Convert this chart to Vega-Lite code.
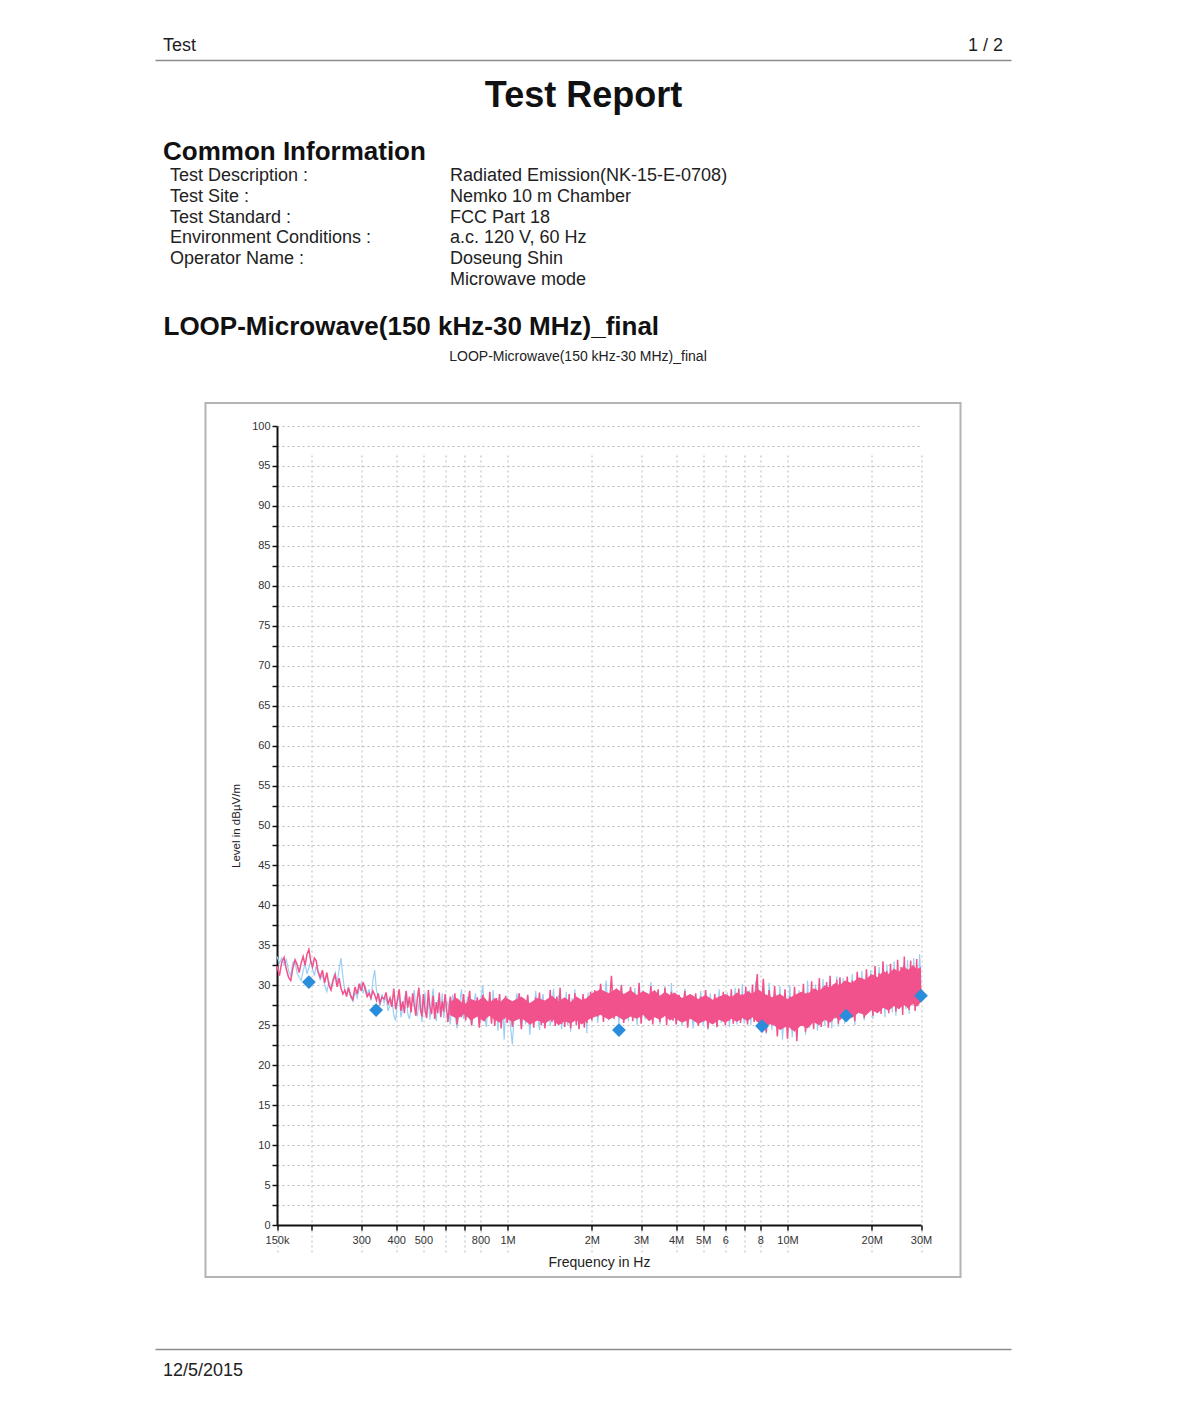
{
  "$schema": "https://vega.github.io/schema/vega-lite/v6.json",
  "background": "white",
  "padding": {"left": 155, "top": 32, "right": 10, "bottom": 10},
  "config": {
    "view": {"stroke": null},
    "font": "Liberation Sans",
    "axis": {"labelFont": "Liberation Sans", "titleFont": "Liberation Sans"},
    "title": {"font": "Liberation Sans"}
  },
  "spacing": 20,
  "bounds": "flush",
  "center": true,
  "datasets": {
    "trace": [
      {"f":0.150,"s1":32.4,"s2":33.6},{"f":0.153,"s1":31.2,"s2":32.8},{"f":0.156,"s1":32.9,"s2":33.4},{"f":0.159,"s1":33.5,"s2":32.6},
      {"f":0.162,"s1":32.0,"s2":33.2},{"f":0.165,"s1":31.0,"s2":31.8},{"f":0.168,"s1":30.6,"s2":31.2},{"f":0.171,"s1":32.2,"s2":32.9},
      {"f":0.174,"s1":33.2,"s2":33.0},{"f":0.177,"s1":32.6,"s2":31.5},{"f":0.180,"s1":31.6,"s2":31.0},{"f":0.183,"s1":32.8,"s2":30.6},
      {"f":0.186,"s1":33.6,"s2":31.8},{"f":0.189,"s1":32.5,"s2":32.7},{"f":0.192,"s1":33.9,"s2":31.4},{"f":0.195,"s1":34.5,"s2":32.2},
      {"f":0.198,"s1":33.0,"s2":33.0},{"f":0.201,"s1":32.3,"s2":32.0},{"f":0.204,"s1":33.4,"s2":31.2},{"f":0.207,"s1":33.1,"s2":32.4},
      {"f":0.210,"s1":31.8,"s2":31.6},{"f":0.214,"s1":31.0,"s2":30.7},{"f":0.218,"s1":31.9,"s2":31.3},{"f":0.222,"s1":30.3,"s2":30.1},
      {"f":0.226,"s1":31.6,"s2":29.2},{"f":0.230,"s1":30.0,"s2":30.4},{"f":0.234,"s1":29.4,"s2":29.7},{"f":0.238,"s1":30.6,"s2":30.9},
      {"f":0.242,"s1":31.3,"s2":31.6},{"f":0.246,"s1":29.8,"s2":30.2},{"f":0.250,"s1":30.9,"s2":32.0},{"f":0.254,"s1":29.6,"s2":33.4},
      {"f":0.258,"s1":28.9,"s2":31.0},{"f":0.262,"s1":29.4,"s2":29.3},{"f":0.266,"s1":28.6,"s2":28.9},{"f":0.270,"s1":29.7,"s2":29.8},
      {"f":0.275,"s1":28.7,"s2":28.5},{"f":0.280,"s1":28.2,"s2":28.0},{"f":0.285,"s1":29.8,"s2":29.2},{"f":0.290,"s1":28.9,"s2":28.4},
      {"f":0.295,"s1":30.2,"s2":29.6},{"f":0.300,"s1":29.3,"s2":30.3},{"f":0.305,"s1":30.4,"s2":29.0},{"f":0.310,"s1":29.5,"s2":30.0},
      {"f":0.315,"s1":28.6,"s2":28.8},{"f":0.320,"s1":29.0,"s2":29.5},{"f":0.325,"s1":28.4,"s2":28.1},{"f":0.330,"s1":29.3,"s2":30.6},
      {"f":0.335,"s1":28.8,"s2":31.9},{"f":0.340,"s1":28.1,"s2":29.4},{"f":0.345,"s1":29.0,"s2":28.5},{"f":0.350,"s1":27.8,"s2":27.4},
      {"f":0.356,"s1":28.5,"s2":28.9},{"f":0.362,"s1":28.3,"s2":27.8},{"f":0.368,"s1":29.1,"s2":28.6},{"f":0.374,"s1":27.6,"s2":26.8},
      {"f":0.380,"s1":28.4,"s2":27.5},{"f":0.386,"s1":27.3,"s2":28.3},{"f":0.392,"s1":29.6,"s2":26.3},{"f":0.398,"s1":27.0,"s2":25.6},
      {"f":0.404,"s1":28.2,"s2":27.9},{"f":0.410,"s1":29.5,"s2":28.7},{"f":0.416,"s1":26.8,"s2":26.0},{"f":0.422,"s1":28.0,"s2":27.1},
      {"f":0.428,"s1":26.5,"s2":28.4},{"f":0.434,"s1":29.3,"s2":29.2},{"f":0.440,"s1":27.2,"s2":26.4},{"f":0.446,"s1":28.6,"s2":25.8},
      {"f":0.452,"s1":26.6,"s2":27.3},{"f":0.458,"s1":29.0,"s2":28.1},{"f":0.464,"s1":27.5,"s2":29.4},{"f":0.470,"s1":26.2,"s2":27.0},
      {"f":0.476,"s1":28.4,"s2":26.1},{"f":0.482,"s1":29.7,"s2":27.7},{"f":0.488,"s1":27.0,"s2":28.8},{"f":0.494,"s1":26.1,"s2":25.4},
      {"f":0.500,"s1":28.9,"s2":27.2},{"f":0.507,"s1":26.9,"s2":29.1},{"f":0.514,"s1":25.9,"s2":26.5},{"f":0.521,"s1":29.4,"s2":28.0},
      {"f":0.528,"s1":27.3,"s2":25.7},{"f":0.535,"s1":26.4,"s2":27.8},{"f":0.542,"s1":28.7,"s2":29.6},{"f":0.549,"s1":25.8,"s2":26.9},
      {"f":0.556,"s1":27.9,"s2":25.5},{"f":0.563,"s1":26.5,"s2":28.2},{"f":0.570,"s1":29.1,"s2":27.4},{"f":0.577,"s1":26.0,"s2":26.2},
      {"f":0.584,"s1":28.0,"s2":29.0},{"f":0.591,"s1":26.7,"s2":25.9},{"f":0.598,"s1":28.9,"s2":27.3},
      {"f":0.612,"s1":25.4,"s2":27.9},{"f":0.624,"s1":28.6,"s2":25.1},{"f":0.636,"s1":26.2,"s2":28.8},{"f":0.648,"s1":29.0,"s2":26.4},
      {"f":0.660,"s1":25.1,"s2":24.6},{"f":0.672,"s1":27.8,"s2":27.3},{"f":0.684,"s1":26.0,"s2":29.5},{"f":0.696,"s1":28.9,"s2":25.8},
      {"f":0.708,"s1":25.6,"s2":27.0},{"f":0.720,"s1":27.4,"s2":28.6},{"f":0.732,"s1":29.3,"s2":26.1},{"f":0.744,"s1":25.0,"s2":24.9},
      {"f":0.756,"s1":27.9,"s2":27.6},{"f":0.768,"s1":26.3,"s2":29.0},{"f":0.780,"s1":28.5,"s2":26.7},{"f":0.792,"s1":24.7,"s2":25.3},
      {"f":0.804,"s1":27.1,"s2":28.4},{"f":0.816,"s1":28.8,"s2":30.0},{"f":0.828,"s1":25.5,"s2":26.2},{"f":0.840,"s1":27.6,"s2":24.8},
      {"f":0.852,"s1":26.1,"s2":27.9},{"f":0.864,"s1":29.2,"s2":28.3},{"f":0.876,"s1":25.2,"s2":25.6},{"f":0.888,"s1":27.7,"s2":29.4},
      {"f":0.900,"s1":24.9,"s2":26.0},{"f":0.912,"s1":28.4,"s2":27.2},{"f":0.924,"s1":26.6,"s2":24.3},{"f":0.936,"s1":28.9,"s2":28.9},
      {"f":0.948,"s1":24.6,"s2":25.7},{"f":0.960,"s1":27.3,"s2":27.8},{"f":0.972,"s1":25.8,"s2":23.2},{"f":0.984,"s1":28.7,"s2":26.9},
      {"f":0.996,"s1":25.3,"s2":28.5},
      {"f":1.02,"s1":28.1,"s2":25.4},{"f":1.04,"s1":24.8,"s2":22.6},{"f":1.06,"s1":27.5,"s2":27.3},{"f":1.08,"s1":25.9,"s2":29.0},
      {"f":1.10,"s1":29.0,"s2":26.2},{"f":1.12,"s1":24.5,"s2":24.7},{"f":1.14,"s1":28.3,"s2":27.9},{"f":1.16,"s1":26.0,"s2":25.1},
      {"f":1.18,"s1":28.8,"s2":28.7},{"f":1.20,"s1":25.1,"s2":23.8},{"f":1.22,"s1":27.6,"s2":27.0},{"f":1.24,"s1":24.7,"s2":25.8},
      {"f":1.26,"s1":28.5,"s2":29.3},{"f":1.28,"s1":26.3,"s2":26.5},{"f":1.30,"s1":29.1,"s2":24.4},{"f":1.32,"s1":25.0,"s2":27.7},
      {"f":1.34,"s1":27.9,"s2":28.9},{"f":1.36,"s1":24.6,"s2":25.2},{"f":1.38,"s1":28.2,"s2":26.8},{"f":1.40,"s1":26.1,"s2":28.0},
      {"f":1.42,"s1":29.4,"s2":24.9},{"f":1.44,"s1":25.4,"s2":27.4},{"f":1.46,"s1":27.2,"s2":29.6},{"f":1.48,"s1":24.9,"s2":25.5},
      {"f":1.50,"s1":28.6,"s2":26.3},{"f":1.52,"s1":25.7,"s2":28.8},{"f":1.54,"s1":29.7,"s2":27.1},{"f":1.56,"s1":25.2,"s2":24.5},
      {"f":1.58,"s1":27.8,"s2":27.6},{"f":1.60,"s1":24.8,"s2":26.0},{"f":1.62,"s1":28.3,"s2":29.2},{"f":1.64,"s1":26.0,"s2":25.0},
      {"f":1.66,"s1":28.9,"s2":27.9},{"f":1.68,"s1":24.6,"s2":24.2},{"f":1.70,"s1":27.4,"s2":28.4},{"f":1.72,"s1":25.6,"s2":26.6},
      {"f":1.74,"s1":29.0,"s2":29.5},{"f":1.76,"s1":25.0,"s2":25.3},{"f":1.78,"s1":28.1,"s2":27.2},{"f":1.80,"s1":24.5,"s2":24.6},
      {"f":1.82,"s1":27.7,"s2":28.1},{"f":1.84,"s1":25.8,"s2":26.4},{"f":1.86,"s1":28.9,"s2":28.7},{"f":1.88,"s1":24.7,"s2":25.1},
      {"f":1.90,"s1":27.5,"s2":27.8},{"f":1.92,"s1":25.3,"s2":24.0},{"f":1.94,"s1":28.6,"s2":29.1},{"f":1.96,"s1":26.2,"s2":26.2},
      {"f":1.98,"s1":29.2,"s2":28.3},
      {"f":2.00,"s1":25.6,"s2":26.4},{"f":2.05,"s1":29.4,"s2":28.9},{"f":2.10,"s1":26.1,"s2":25.3},{"f":2.15,"s1":30.2,"s2":29.8},
      {"f":2.20,"s1":25.4,"s2":26.8},{"f":2.25,"s1":29.0,"s2":30.6},{"f":2.30,"s1":26.5,"s2":25.6},{"f":2.35,"s1":31.2,"s2":29.3},
      {"f":2.40,"s1":25.8,"s2":26.0},{"f":2.45,"s1":29.6,"s2":28.4},{"f":2.50,"s1":26.2,"s2":25.2},{"f":2.55,"s1":30.0,"s2":30.1},
      {"f":2.60,"s1":25.3,"s2":26.3},{"f":2.65,"s1":28.9,"s2":29.0},{"f":2.70,"s1":26.8,"s2":25.5},{"f":2.75,"s1":29.8,"s2":28.2},
      {"f":2.80,"s1":25.5,"s2":26.6},{"f":2.85,"s1":28.6,"s2":29.7},{"f":2.90,"s1":26.0,"s2":25.0},{"f":2.95,"s1":30.3,"s2":28.8},
      {"f":3.00,"s1":25.2,"s2":26.1},{"f":3.05,"s1":29.1,"s2":29.4},{"f":3.10,"s1":26.4,"s2":25.7},{"f":3.15,"s1":28.8,"s2":28.0},
      {"f":3.20,"s1":25.7,"s2":26.9},{"f":3.25,"s1":29.9,"s2":30.4},{"f":3.30,"s1":25.1,"s2":25.4},{"f":3.35,"s1":28.7,"s2":28.6},
      {"f":3.40,"s1":26.6,"s2":26.2},{"f":3.45,"s1":29.5,"s2":29.1},{"f":3.50,"s1":25.4,"s2":25.1},{"f":3.55,"s1":28.4,"s2":28.7},
      {"f":3.60,"s1":26.0,"s2":26.5},{"f":3.65,"s1":29.7,"s2":29.9},{"f":3.70,"s1":25.0,"s2":25.3},{"f":3.75,"s1":28.9,"s2":28.1},
      {"f":3.80,"s1":26.3,"s2":26.0},{"f":3.85,"s1":29.2,"s2":30.3},{"f":3.90,"s1":25.6,"s2":25.5},{"f":3.95,"s1":28.5,"s2":28.8},
      {"f":4.0,"s1":25.1,"s2":25.8},{"f":4.1,"s1":28.8,"s2":28.3},{"f":4.2,"s1":25.8,"s2":24.9},{"f":4.3,"s1":29.3,"s2":29.6},
      {"f":4.4,"s1":24.7,"s2":25.6},{"f":4.5,"s1":28.2,"s2":28.9},{"f":4.6,"s1":25.9,"s2":24.6},{"f":4.7,"s1":29.0,"s2":28.0},
      {"f":4.8,"s1":24.9,"s2":26.1},{"f":4.9,"s1":28.6,"s2":29.3},{"f":5.0,"s1":25.5,"s2":25.0},{"f":5.1,"s1":29.4,"s2":28.5},
      {"f":5.2,"s1":24.6,"s2":24.4},{"f":5.3,"s1":28.1,"s2":29.0},{"f":5.4,"s1":25.7,"s2":25.9},{"f":5.5,"s1":28.9,"s2":28.2},
      {"f":5.6,"s1":24.8,"s2":24.7},{"f":5.7,"s1":28.4,"s2":29.5},{"f":5.8,"s1":26.0,"s2":25.3},{"f":5.9,"s1":29.2,"s2":28.6},
      {"f":6.0,"s1":25.0,"s2":25.6},{"f":6.1,"s1":28.7,"s2":29.1},{"f":6.2,"s1":25.6,"s2":24.8},{"f":6.3,"s1":29.5,"s2":28.4},
      {"f":6.4,"s1":25.2,"s2":26.0},{"f":6.5,"s1":28.5,"s2":29.7},{"f":6.6,"s1":26.1,"s2":25.1},{"f":6.7,"s1":29.6,"s2":28.8},
      {"f":6.8,"s1":25.3,"s2":25.7},{"f":6.9,"s1":28.9,"s2":30.2},{"f":7.0,"s1":25.9,"s2":25.2},{"f":7.1,"s1":29.8,"s2":28.9},
      {"f":7.2,"s1":25.1,"s2":26.3},{"f":7.3,"s1":29.2,"s2":29.4},{"f":7.4,"s1":26.2,"s2":25.0},{"f":7.5,"s1":30.1,"s2":29.0},
      {"f":7.6,"s1":25.4,"s2":26.1},{"f":7.7,"s1":29.0,"s2":30.5},{"f":7.8,"s1":31.4,"s2":25.4},{"f":7.9,"s1":25.7,"s2":29.3},
      {"f":8.0,"s1":24.6,"s2":25.1},{"f":8.2,"s1":30.8,"s2":29.6},{"f":8.4,"s1":24.1,"s2":23.9},{"f":8.6,"s1":29.4,"s2":30.3},
      {"f":8.8,"s1":25.0,"s2":24.4},{"f":9.0,"s1":29.9,"s2":28.7},{"f":9.2,"s1":23.6,"s2":25.6},{"f":9.4,"s1":28.8,"s2":29.9},
      {"f":9.6,"s1":24.8,"s2":23.2},{"f":9.8,"s1":29.5,"s2":28.4},{"f":10.0,"s1":23.3,"s2":24.9},{"f":10.2,"s1":28.6,"s2":30.0},
      {"f":10.4,"s1":24.4,"s2":23.5},{"f":10.6,"s1":29.8,"s2":28.8},{"f":10.8,"s1":23.0,"s2":24.2},{"f":11.0,"s1":28.9,"s2":29.4},
      {"f":11.2,"s1":24.9,"s2":25.5},{"f":11.4,"s1":30.2,"s2":29.0},{"f":11.6,"s1":24.2,"s2":23.8},{"f":11.8,"s1":29.1,"s2":30.6},
      {"f":12.0,"s1":25.3,"s2":24.7},{"f":12.2,"s1":30.5,"s2":29.3},{"f":12.4,"s1":24.5,"s2":25.9},{"f":12.6,"s1":29.6,"s2":30.1},
      {"f":12.8,"s1":25.6,"s2":24.3},{"f":13.0,"s1":30.9,"s2":29.5},{"f":13.2,"s1":24.8,"s2":25.4},{"f":13.4,"s1":29.7,"s2":30.8},
      {"f":13.6,"s1":25.9,"s2":24.9},{"f":13.8,"s1":30.4,"s2":29.8},{"f":14.0,"s1":24.7,"s2":26.0},{"f":14.2,"s1":31.2,"s2":30.5},
      {"f":14.4,"s1":25.5,"s2":24.6},{"f":14.6,"s1":30.1,"s2":29.6},{"f":14.8,"s1":26.0,"s2":25.8},{"f":15.0,"s1":30.7,"s2":31.1},
      {"f":15.2,"s1":25.2,"s2":24.8},{"f":15.4,"s1":31.0,"s2":30.0},{"f":15.6,"s1":26.3,"s2":26.2},{"f":15.8,"s1":30.3,"s2":30.9},
      {"f":16.00,"s1":25.7,"s2":25.2},{"f":16.35,"s1":31.1,"s2":30.6},{"f":16.70,"s1":26.1,"s2":26.7},{"f":17.05,"s1":30.6,"s2":31.4},
      {"f":17.40,"s1":25.5,"s2":25.0},{"f":17.75,"s1":31.7,"s2":30.3},{"f":18.10,"s1":26.6,"s2":26.4},{"f":18.45,"s1":30.9,"s2":31.8},
      {"f":18.80,"s1":25.9,"s2":25.6},{"f":19.15,"s1":32.0,"s2":30.8},{"f":19.50,"s1":26.8,"s2":27.0},{"f":19.85,"s1":31.3,"s2":31.9},
      {"f":20.20,"s1":26.2,"s2":25.8},{"f":20.55,"s1":32.4,"s2":31.1},{"f":20.90,"s1":27.0,"s2":26.5},{"f":21.25,"s1":31.5,"s2":32.3},
      {"f":21.60,"s1":26.4,"s2":26.9},{"f":21.95,"s1":33.0,"s2":31.6},{"f":22.30,"s1":27.2,"s2":26.0},{"f":22.65,"s1":31.8,"s2":32.6},
      {"f":23.00,"s1":26.5,"s2":27.3},{"f":23.35,"s1":32.7,"s2":31.2},{"f":23.70,"s1":27.5,"s2":26.6},{"f":24.05,"s1":31.9,"s2":33.0},
      {"f":24.40,"s1":26.7,"s2":26.2},{"f":24.75,"s1":33.2,"s2":32.1},{"f":25.10,"s1":27.1,"s2":27.6},{"f":25.45,"s1":32.3,"s2":31.5},
      {"f":25.80,"s1":26.3,"s2":26.8},{"f":26.15,"s1":33.6,"s2":32.9},{"f":26.50,"s1":27.4,"s2":27.0},{"f":26.85,"s1":32.0,"s2":33.2},
      {"f":27.20,"s1":26.9,"s2":26.4},{"f":27.55,"s1":33.1,"s2":32.0},{"f":27.90,"s1":27.6,"s2":27.8},{"f":28.25,"s1":32.5,"s2":33.4},
      {"f":28.60,"s1":26.8,"s2":26.9},{"f":28.95,"s1":33.3,"s2":32.4},{"f":29.30,"s1":27.7,"s2":27.5},{"f":29.65,"s1":32.1,"s2":33.9},
      {"f":30.00,"s1":28.9,"s2":30.2}
    ],
    "envelope": [
      {"f":0.62,"low":26.3,"high":27.9},{"f":0.66,"low":25.8,"high":28.4},{"f":0.70,"low":26.4,"high":27.6},{"f":0.74,"low":25.6,"high":28.3},
      {"f":0.78,"low":26.1,"high":28.0},{"f":0.82,"low":25.5,"high":28.6},{"f":0.86,"low":26.2,"high":27.8},{"f":0.90,"low":25.7,"high":28.4},
      {"f":0.94,"low":25.3,"high":27.9},{"f":0.98,"low":26.0,"high":28.5},{"f":1.04,"low":25.4,"high":28.0},{"f":1.12,"low":25.9,"high":28.6},
      {"f":1.20,"low":25.1,"high":27.8},{"f":1.28,"low":25.6,"high":28.4},{"f":1.36,"low":25.2,"high":28.1},{"f":1.44,"low":25.8,"high":28.7},
      {"f":1.52,"low":25.0,"high":28.0},{"f":1.60,"low":25.5,"high":28.5},{"f":1.68,"low":25.2,"high":27.9},{"f":1.76,"low":25.7,"high":28.6},
      {"f":1.84,"low":25.1,"high":28.2},{"f":1.92,"low":25.6,"high":28.4},{"f":2.00,"low":25.9,"high":29.0},{"f":2.15,"low":26.3,"high":29.5},
      {"f":2.30,"low":25.7,"high":29.0},{"f":2.45,"low":26.2,"high":29.6},{"f":2.60,"low":25.6,"high":28.9},{"f":2.75,"low":26.1,"high":29.4},
      {"f":2.90,"low":25.8,"high":28.8},{"f":3.05,"low":26.3,"high":29.3},{"f":3.20,"low":25.5,"high":28.9},{"f":3.35,"low":26.0,"high":29.4},
      {"f":3.50,"low":25.7,"high":28.7},{"f":3.65,"low":26.2,"high":29.2},{"f":3.80,"low":25.6,"high":28.8},{"f":3.95,"low":25.9,"high":29.1},
      {"f":4.2,"low":25.3,"high":28.4},{"f":4.5,"low":25.8,"high":28.9},{"f":4.8,"low":25.2,"high":28.3},{"f":5.1,"low":25.6,"high":28.8},
      {"f":5.4,"low":25.1,"high":28.2},{"f":5.7,"low":25.7,"high":28.6},{"f":6.0,"low":25.3,"high":28.9},{"f":6.3,"low":25.8,"high":28.5},
      {"f":6.6,"low":25.4,"high":29.1},{"f":6.9,"low":25.9,"high":28.7},{"f":7.2,"low":25.5,"high":29.3},{"f":7.5,"low":26.0,"high":28.9},
      {"f":7.8,"low":25.4,"high":29.6},{"f":8.2,"low":24.8,"high":29.0},{"f":8.8,"low":25.2,"high":28.5},{"f":9.4,"low":24.4,"high":28.9},
      {"f":10.0,"low":24.9,"high":28.3},{"f":10.6,"low":24.2,"high":28.8},{"f":11.2,"low":25.0,"high":29.2},{"f":11.8,"low":24.6,"high":28.9},
      {"f":12.4,"low":25.4,"high":29.6},{"f":13.0,"low":25.0,"high":29.3},{"f":13.6,"low":25.7,"high":30.0},{"f":14.2,"low":25.3,"high":29.7},
      {"f":14.8,"low":26.0,"high":30.3},{"f":15.4,"low":25.6,"high":30.0},{"f":16.0,"low":26.3,"high":30.6},{"f":17.0,"low":25.9,"high":30.3},
      {"f":18.0,"low":26.6,"high":31.0},{"f":19.0,"low":26.2,"high":30.7},{"f":20.0,"low":26.9,"high":31.4},{"f":21.0,"low":26.5,"high":31.0},
      {"f":22.0,"low":27.2,"high":31.8},{"f":23.0,"low":26.8,"high":31.4},{"f":24.0,"low":27.4,"high":32.1},{"f":25.0,"low":27.0,"high":31.7},
      {"f":26.0,"low":27.6,"high":32.4},{"f":27.0,"low":27.1,"high":31.9},{"f":28.0,"low":27.7,"high":32.5},{"f":29.0,"low":27.3,"high":32.0},
      {"f":30.0,"low":27.9,"high":32.3}
    ],
    "final": [
      {"f":0.195,"level":30.4},{"f":0.339,"level":26.9},{"f":2.50,"level":24.4},
      {"f":8.11,"level":24.9},{"f":16.2,"level":26.2},{"f":30.0,"level":28.7}
    ]
  },
  "vconcat": [
    {
      "width": 856,
      "height": 28,
      "data": {"values": [{"part": "document", "text": "Test"}, {"part": "page", "text": "1 / 2"}]},
      "layer": [
        {
          "transform": [{"filter": "datum.part == 'document'"}],
          "mark": {"type": "text", "align": "left", "baseline": "middle", "fontSize": 18, "color": "#1e1e1e", "dx": 8},
          "encoding": {
            "x": {"field": "part", "type": "nominal",
              "scale": {"type": "point", "domain": ["document", "page"], "padding": 0},
              "axis": {"title": "Test Report", "labels": false, "ticks": false, "grid": false, "domain": true, "domainColor": "#8c8c8c", "domainWidth": 1.5, "titleFontSize": 36, "titleFontWeight": "bold", "titleColor": "#111111", "titlePadding": 18, "titleBaseline": "top"}},
            "text": {"field": "text"}
          }
        },
        {
          "transform": [{"filter": "datum.part == 'page'"}],
          "mark": {"type": "text", "align": "right", "baseline": "middle", "fontSize": 18, "color": "#1e1e1e", "dx": -8},
          "encoding": {
            "x": {"field": "part", "type": "nominal",
              "scale": {"type": "point", "domain": ["document", "page"], "padding": 0},
              "axis": {"title": "Test Report", "labels": false, "ticks": false, "grid": false, "domain": true, "domainColor": "#8c8c8c", "domainWidth": 1.5, "titleFontSize": 36, "titleFontWeight": "bold", "titleColor": "#111111", "titlePadding": 18, "titleBaseline": "top"}},
            "text": {"field": "text"}
          }
        }
      ]
    },
    {
      "width": 856,
      "height": 303,
      "title": {"text": "Common Information", "anchor": "start", "frame": "group", "fontSize": 26, "fontWeight": "bold", "color": "#111111", "baseline": "alphabetic", "offset": -106, "dx": 8},
      "data": {"values": [
        {"item": "Test Description :", "value": "Radiated Emission(NK-15-E-0708)"},
        {"item": "Test Site :", "value": "Nemko 10 m Chamber"},
        {"item": "Test Standard :", "value": "FCC Part 18"},
        {"item": "Environment Conditions :", "value": "a.c. 120 V, 60 Hz"},
        {"item": "Operator Name :", "value": "Doseung Shin"},
        {"item": "", "value": "Microwave mode"}
      ]},
      "transform": [{"fold": ["item", "value"], "as": ["column", "text"]}],
      "mark": {"type": "text", "align": "left", "baseline": "middle", "fontSize": 18, "color": "#222222"},
      "encoding": {
        "x": {"field": "column", "type": "nominal",
          "scale": {"type": "point", "domain": ["item", "value"], "range": [15, 295], "padding": 0},
          "axis": {"title": "LOOP-Microwave(150 kHz-30 MHz)_final", "labels": false, "ticks": false, "domain": false, "grid": false, "offset": -70, "titleAnchor": "start", "titleAlign": "left", "titleX": 8, "titleFontSize": 26, "titleFontWeight": "bold", "titleColor": "#111111", "titlePadding": 0, "titleBaseline": "top"}},
        "y": {"field": "value", "type": "nominal", "sort": null,
          "scale": {"range": [86, 210], "paddingInner": 0, "paddingOuter": 0}, "axis": null},
        "text": {"field": "text"}
      }
    },
    {
      "width": 755,
      "height": 874,
      "view": {"stroke": "#b4b4b4", "strokeWidth": 2},
      "title": {"text": "LOOP-Microwave(150 kHz-30 MHz)_final", "anchor": "middle", "frame": "group", "fontSize": 14, "fontWeight": "normal", "color": "#222222", "baseline": "alphabetic", "offset": 28, "dx": -5},
      "encoding": {
        "x": {"field": "f", "type": "quantitative",
          "scale": {"type": "log", "domain": [0.15, 30], "range": [71.5, 715.5], "nice": false},
          "axis": {"title": "Frequency in Hz", "orient": "bottom", "offset": -52,
            "values": [0.15, 0.2, 0.3, 0.4, 0.5, 0.6, 0.7, 0.8, 1, 2, 3, 4, 5, 6, 7, 8, 10, 20, 30],
            "labelExpr": "datum.value == 0.15 ? '150k' : datum.value == 0.3 ? '300' : datum.value == 0.4 ? '400' : datum.value == 0.5 ? '500' : datum.value == 0.8 ? '800' : datum.value == 1 ? '1M' : datum.value == 2 ? '2M' : datum.value == 3 ? '3M' : datum.value == 4 ? '4M' : datum.value == 5 ? '5M' : datum.value == 6 ? '6' : datum.value == 8 ? '8' : datum.value == 10 ? '10M' : datum.value == 20 ? '20M' : datum.value == 30 ? '30M' : ''",
            "labelOverlap": false, "labelBound": false, "labelFlush": false,
            "labelFontSize": 11, "labelColor": "#333333", "labelPadding": 4,
            "grid": true, "gridDash": [2, 3], "gridColor": "#b9b9b9", "gridWidth": 1,
            "domainColor": "#111111", "domainWidth": 2, "tickColor": "#111111", "tickWidth": 1.5, "tickSize": 5,
            "titleFontSize": 14, "titleFontWeight": "normal", "titleColor": "#222222", "titlePadding": 10}},
        "y": {"field": "level", "type": "quantitative",
          "scale": {"domain": [0, 100], "range": [822, 23], "nice": false, "zero": false},
          "axis": {"title": "Level in dBµV/m", "orient": "left", "offset": -71.5,
            "values": [0, 2.5, 5, 7.5, 10, 12.5, 15, 17.5, 20, 22.5, 25, 27.5, 30, 32.5, 35, 37.5, 40, 42.5, 45, 47.5, 50, 52.5, 55, 57.5, 60, 62.5, 65, 67.5, 70, 72.5, 75, 77.5, 80, 82.5, 85, 87.5, 90, 92.5, 95, 97.5, 100],
            "labelExpr": "datum.value % 5 == 0 ? datum.label : ''",
            "labelOverlap": false, "labelBound": false, "labelFlush": false,
            "labelFontSize": 11, "labelColor": "#333333", "labelPadding": 2,
            "grid": true, "gridDash": [2, 3], "gridColor": "#b9b9b9", "gridWidth": 1,
            "domainColor": "#111111", "domainWidth": 2, "tickColor": "#111111", "tickWidth": 1.5, "tickSize": 5,
            "titleFontSize": 11.5, "titleFontWeight": "normal", "titleColor": "#222222", "titlePadding": 10}}
      },
      "layer": [
        {
          "data": {"name": "trace"},
          "transform": [{"fold": ["s2", "s1"], "as": ["series", "level"]}, {"filter": "datum.series == 's2'"}],
          "mark": {"type": "line", "color": "#9ccff4", "strokeWidth": 1.2, "clip": false}
        },
        {
          "data": {"name": "envelope"},
          "mark": {"type": "area", "color": "#f2528c", "opacity": 1, "clip": false},
          "encoding": {
            "y": {"field": "low", "type": "quantitative", "scale": {"domain": [0, 100], "range": [822, 23], "nice": false, "zero": false}},
            "y2": {"field": "high"}
          }
        },
        {
          "data": {"name": "trace"},
          "transform": [{"fold": ["s2", "s1"], "as": ["series", "level"]}, {"filter": "datum.series == 's1'"}],
          "mark": {"type": "line", "color": "#f2528c", "strokeWidth": 1.5, "clip": false}
        },
        {
          "data": {"name": "final"},
          "mark": {"type": "point", "shape": "diamond", "filled": true, "size": 190, "color": "#2a8ddb", "opacity": 1, "clip": false}
        }
      ]
    },
    {
      "width": 856,
      "height": 52,
      "data": {"values": [{"date": "12/5/2015"}]},
      "mark": {"type": "text", "align": "left", "baseline": "middle", "fontSize": 18, "color": "#222222", "dx": 8},
      "encoding": {
        "x": {"field": "date", "type": "nominal",
          "scale": {"type": "point", "padding": 0, "align": 0},
          "axis": {"title": null, "labels": false, "ticks": false, "grid": false, "domain": true, "domainColor": "#8c8c8c", "domainWidth": 1.5}},
        "y": {"field": "date", "type": "nominal",
          "scale": {"range": [52, 96], "paddingInner": 0, "paddingOuter": 0}, "axis": null},
        "text": {"field": "date"}
      }
    }
  ]
}
